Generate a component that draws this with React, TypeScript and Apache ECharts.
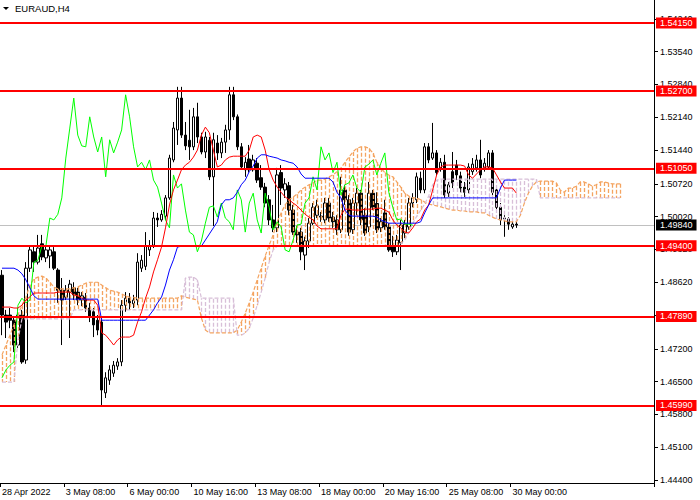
import { useEffect, useRef } from 'react'
import * as echarts from 'echarts'

const FONT = '"Liberation Sans", Arial, sans-serif'

// time axis labels, one every 16 H4 bars
const timeLabels = ['28 Apr 2022', '3 May 08:00', '6 May 00:00', '10 May 16:00', '13 May 08:00', '18 May 00:00', '20 May 16:00', '25 May 08:00', '30 May 00:00']
const LABEL_STEP = 16
const SLOTS = 164
const CHIKOU_SHIFT = 26

const yTicks = [1.444, 1.451, 1.458, 1.465, 1.472, 1.4791, 1.4862, 1.4932, 1.5002, 1.5072, 1.5144, 1.5214, 1.5284, 1.5354, 1.5424]
const levels = [1.5415, 1.527, 1.5105, 1.494, 1.4789, 1.4599]
const lastPrice = 1.4984

const opens = [
  1.4877, 1.4792, 1.4792, 1.4781, 1.4728, 1.4792, 1.4696, 1.4892, 1.4927, 1.4905,
  1.4944, 1.4914, 1.4918, 1.4927, 1.4888, 1.4845, 1.4830, 1.4841, 1.4850, 1.4841,
  1.4824, 1.4830, 1.4807, 1.4799, 1.4781, 1.4777, 1.4626, 1.4653, 1.4668, 1.4683,
  1.4692, 1.4813, 1.4828, 1.4816, 1.4824, 1.4892, 1.4896, 1.4931, 1.4941, 1.4999,
  1.4995, 1.5003, 1.5042, 1.5123, 1.5187, 1.5255, 1.5176, 1.5165, 1.5151, 1.5215,
  1.5172, 1.5140, 1.5165, 1.5087, 1.5159, 1.5138, 1.5161, 1.5187, 1.5262, 1.5215,
  1.5151, 1.5102, 1.5125, 1.5102, 1.5116, 1.5085, 1.5065, 1.5038, 1.4995, 1.4978,
  1.5096, 1.5059, 1.5068, 1.5016, 1.4969, 1.4969, 1.4920, 1.4950, 1.4988, 1.5005,
  1.5003, 1.4995, 1.5031, 1.5001, 1.4995, 1.4974, 1.5059, 1.5038, 1.4974, 1.5031,
  1.5052, 1.5005, 1.4980, 1.5052, 1.5030, 1.4978, 1.5010, 1.4980, 1.4940, 1.4927,
  1.4946, 1.4967, 1.4980, 1.5031, 1.5038, 1.5084, 1.5059, 1.5151, 1.5127, 1.5138,
  1.5106, 1.5118, 1.5052, 1.5098, 1.5112, 1.5089, 1.5065, 1.5059, 1.5098, 1.5106,
  1.5123, 1.5106, 1.5108, 1.5138, 1.5059, 1.5022, 1.4999, 1.4997, 1.4980, 1.4986,
]
const highs = [
  1.4888, 1.4803, 1.4807, 1.4786, 1.4807, 1.4803, 1.4905, 1.4941, 1.4941, 1.4963,
  1.4963, 1.4941, 1.4939, 1.4937, 1.4892, 1.4871, 1.4856, 1.4867, 1.4862, 1.4850,
  1.4841, 1.4839, 1.4818, 1.4807, 1.4792, 1.4786, 1.4670, 1.4685, 1.4694, 1.4700,
  1.4824, 1.4841, 1.4839, 1.4835, 1.4924, 1.4920, 1.4969, 1.4952, 1.5012, 1.5010,
  1.5016, 1.5048, 1.5134, 1.5204, 1.5279, 1.5279, 1.5204, 1.5230, 1.5234, 1.5245,
  1.5181, 1.5183, 1.5172, 1.5181, 1.5176, 1.5170, 1.5198, 1.5279, 1.5279, 1.5220,
  1.5159, 1.5129, 1.5155, 1.5134, 1.5127, 1.5112, 1.5074, 1.5048, 1.5027, 1.5106,
  1.5112, 1.5084, 1.5076, 1.5027, 1.4982, 1.4978, 1.4959, 1.4999, 1.5031, 1.5038,
  1.5012, 1.5042, 1.5042, 1.5012, 1.5005, 1.5087, 1.5070, 1.5048, 1.5042, 1.5063,
  1.5059, 1.5020, 1.5076, 1.5059, 1.5054, 1.4999, 1.5038, 1.4988, 1.4961, 1.4963,
  1.4995, 1.4995, 1.5042, 1.5052, 1.5096, 1.5098, 1.5159, 1.5159, 1.5202, 1.5144,
  1.5127, 1.5134, 1.5076, 1.5140, 1.5123, 1.5098, 1.5076, 1.5116, 1.5127, 1.5134,
  1.5166, 1.5127, 1.5144, 1.5144, 1.5065, 1.5031, 1.5005, 1.5001, 1.4995, 1.4991,
]
const lows = [
  1.4749, 1.4743, 1.4764, 1.4713, 1.4722, 1.4688, 1.4688, 1.4884, 1.4884, 1.4900,
  1.4909, 1.4905, 1.4892, 1.4888, 1.4818, 1.4728, 1.4824, 1.4743, 1.4824, 1.4813,
  1.4811, 1.4799, 1.4777, 1.4745, 1.4749, 1.4600, 1.4615, 1.4643, 1.4660, 1.4675,
  1.4683, 1.4799, 1.4803, 1.4807, 1.4813, 1.4884, 1.4888, 1.4918, 1.4935, 1.4980,
  1.4991, 1.4995, 1.5038, 1.5118, 1.5155, 1.5170, 1.5144, 1.5123, 1.5144, 1.5159,
  1.5135, 1.5127, 1.5080, 1.4982, 1.5123, 1.5127, 1.5138, 1.5166, 1.5208, 1.5144,
  1.5102, 1.5087, 1.5096, 1.5098, 1.5074, 1.5059, 1.5022, 1.4984, 1.4969, 1.4969,
  1.5027, 1.5042, 1.5005, 1.4963, 1.4946, 1.4909, 1.4888, 1.4935, 1.4984, 1.4999,
  1.4991, 1.4988, 1.4991, 1.4978, 1.4963, 1.4967, 1.5027, 1.4961, 1.4965, 1.5005,
  1.4984, 1.4961, 1.4969, 1.5016, 1.4967, 1.4969, 1.4974, 1.4927, 1.4916, 1.4920,
  1.4888, 1.4956, 1.4974, 1.5022, 1.5031, 1.5052, 1.5052, 1.5116, 1.5123, 1.5091,
  1.5098, 1.5042, 1.5044, 1.5063, 1.5080, 1.5054, 1.5044, 1.5052, 1.5091, 1.5098,
  1.5084, 1.5098, 1.5102, 1.5048, 1.5016, 1.4984, 1.4959, 1.4974, 1.4976, 1.4978,
]
const closes = [
  1.4792, 1.4777, 1.4781, 1.4728, 1.4792, 1.4692, 1.4892, 1.4931, 1.4905, 1.4935,
  1.4916, 1.4931, 1.4931, 1.4892, 1.4845, 1.4824, 1.4845, 1.4858, 1.4835, 1.4824,
  1.4833, 1.4807, 1.4790, 1.4771, 1.4760, 1.4632, 1.4658, 1.4675, 1.4685, 1.4692,
  1.4813, 1.4828, 1.4818, 1.4824, 1.4905, 1.4909, 1.4939, 1.4939, 1.4999, 1.4995,
  1.5007, 1.5042, 1.5127, 1.5191, 1.5255, 1.5176, 1.5153, 1.5151, 1.5215, 1.5172,
  1.5140, 1.5172, 1.5087, 1.5166, 1.5138, 1.5161, 1.5187, 1.5262, 1.5215, 1.5151,
  1.5108, 1.5118, 1.5102, 1.5123, 1.5080, 1.5065, 1.5031, 1.4995, 1.4978, 1.5091,
  1.5063, 1.5072, 1.5016, 1.4969, 1.4963, 1.4927, 1.4950, 1.4988, 1.5022, 1.5025,
  1.5001, 1.5031, 1.4999, 1.4991, 1.4974, 1.5059, 1.5038, 1.4969, 1.5031, 1.5052,
  1.4995, 1.4967, 1.5052, 1.5022, 1.4974, 1.4991, 1.4980, 1.4931, 1.4927, 1.4952,
  1.4984, 1.4986, 1.5031, 1.5042, 1.5087, 1.5059, 1.5151, 1.5123, 1.5138, 1.5096,
  1.5118, 1.5048, 1.5070, 1.5074, 1.5091, 1.5063, 1.5054, 1.5108, 1.5114, 1.5123,
  1.5091, 1.5116, 1.5138, 1.5054, 1.5022, 1.4995, 1.4997, 1.4986, 1.4986, 1.4984,
]

// Ichimoku lines
const tenkan = [
  1.4809, 1.4809, 1.4809, 1.4807, 1.4807, 1.4813, 1.4824, 1.4831, 1.4839, 1.4839,
  1.4839, 1.4839, 1.4839, 1.4839, 1.4841, 1.4841, 1.4841, 1.4841, 1.4835, 1.4833,
  1.4828, 1.4824, 1.4824, 1.4824, 1.4813, 1.4754, 1.4749, 1.4739, 1.4728, 1.4739,
  1.4745, 1.4745, 1.4745, 1.4749, 1.4777, 1.4799, 1.4828, 1.4852, 1.4884, 1.4910,
  1.4937, 1.4978, 1.5027, 1.5059, 1.5080, 1.5102, 1.5112, 1.5118, 1.5129, 1.5144,
  1.5176, 1.5193, 1.5181, 1.5144, 1.5108, 1.5112, 1.5123, 1.5129, 1.5131, 1.5131,
  1.5131, 1.5131, 1.5144, 1.5172, 1.5176, 1.5172, 1.5144, 1.5102, 1.5080, 1.5065,
  1.5054, 1.5044, 1.5038, 1.5031, 1.5025, 1.5016, 1.5007, 1.5001, 1.4995, 1.4982,
  1.4976, 1.4976, 1.4976, 1.4976, 1.4976, 1.5005, 1.5018, 1.5018, 1.5016, 1.5016,
  1.5016, 1.5018, 1.5018, 1.5018, 1.5020, 1.5020, 1.5016, 1.5012, 1.4995, 1.4984,
  1.4978, 1.4969, 1.4967, 1.4978, 1.4991, 1.4997, 1.5016, 1.5027, 1.5059, 1.5091,
  1.5108, 1.5112, 1.5112, 1.5112, 1.5112, 1.5112, 1.5110, 1.5091, 1.5084, 1.5093,
  1.5102, 1.5108, 1.5108, 1.5106, 1.5091, 1.5076, 1.5063, 1.5063, 1.5063, 1.5052,
]
const kijun = [
  1.4892, 1.4892, 1.4892, 1.4892, 1.4888, 1.4880, 1.4867, 1.4850, 1.4833, 1.4826,
  1.4826, 1.4826, 1.4826, 1.4826, 1.4826, 1.4826, 1.4826, 1.4826, 1.4826, 1.4826,
  1.4826, 1.4826, 1.4826, 1.4826, 1.4826, 1.4781, 1.4781, 1.4781, 1.4781, 1.4781,
  1.4781, 1.4781, 1.4781, 1.4781, 1.4781, 1.4781, 1.4781, 1.4792, 1.4803, 1.4818,
  1.4830, 1.4856, 1.4888, 1.4910, 1.4937, 1.4939, 1.4939, 1.4939, 1.4939, 1.4939,
  1.4939, 1.4952, 1.4965, 1.4978, 1.4991, 1.5027, 1.5038, 1.5038, 1.5042, 1.5054,
  1.5070, 1.5080, 1.5098, 1.5110, 1.5127, 1.5134, 1.5134, 1.5131, 1.5129, 1.5127,
  1.5123, 1.5121, 1.5118, 1.5116, 1.5108, 1.5093, 1.5084, 1.5084, 1.5084, 1.5084,
  1.5084, 1.5084, 1.5084, 1.5076, 1.5054, 1.5042, 1.5016, 1.5005, 1.5003, 1.5003,
  1.5003, 1.5003, 1.5003, 1.5003, 1.5001, 1.4995, 1.4991, 1.4988, 1.4988, 1.4988,
  1.4988, 1.4988, 1.4988, 1.4988, 1.4988, 1.4991, 1.5010, 1.5027, 1.5042, 1.5042,
  1.5042, 1.5042, 1.5042, 1.5042, 1.5042, 1.5042, 1.5042, 1.5042, 1.5042, 1.5042,
  1.5042, 1.5042, 1.5042, 1.5042, 1.5042, 1.5063, 1.5080, 1.5080, 1.5080, 1.5080,
]
// senkou spans, already drawn 26 bars ahead
const spanA = [
  1.4707, 1.4728, 1.4749, 1.4771, 1.4792, 1.4813, 1.4830, 1.4856, 1.4869, 1.4873,
  1.4875, 1.4871, 1.4862, 1.4852, 1.4848, 1.4848, 1.4848, 1.4848, 1.4850, 1.4852,
  1.4856, 1.4860, 1.4862, 1.4862, 1.4862, 1.4856, 1.4850, 1.4845, 1.4843, 1.4841,
  1.4837, 1.4833, 1.4830, 1.4830, 1.4828, 1.4828, 1.4828, 1.4828, 1.4828, 1.4828,
  1.4828, 1.4828, 1.4828, 1.4828, 1.4828, 1.4833, 1.4830, 1.4828, 1.4826, 1.4824,
  1.4786, 1.4760, 1.4754, 1.4754, 1.4754, 1.4754, 1.4754, 1.4754, 1.4754, 1.4760,
  1.4777, 1.4796, 1.4818, 1.4841, 1.4867, 1.4892, 1.4918, 1.4941, 1.4963, 1.4991,
  1.5010, 1.5027, 1.5038, 1.5044, 1.5050, 1.5059, 1.5065, 1.5070, 1.5074, 1.5080,
  1.5080, 1.5082, 1.5087, 1.5091, 1.5098, 1.5106, 1.5118, 1.5129, 1.5140, 1.5148,
  1.5151, 1.5151, 1.5148, 1.5138, 1.5118, 1.5106, 1.5096, 1.5091, 1.5087, 1.5076,
  1.5065, 1.5052, 1.5046, 1.5042, 1.5042, 1.5038, 1.5033, 1.5029, 1.5027, 1.5025,
  1.5023, 1.5020, 1.5018, 1.5016, 1.5016, 1.5014, 1.5014, 1.5012, 1.5012, 1.5012,
  1.5010, 1.5010, 1.5005, 1.5001, 1.4997, 1.4995, 1.4993, 1.4991, 1.4991, 1.4991,
  1.5005, 1.5031, 1.5052, 1.5067, 1.5076, 1.5078, 1.5078, 1.5078, 1.5078, 1.5074,
  1.5059, 1.5054, 1.5063, 1.5063, 1.5067, 1.5076, 1.5076, 1.5072, 1.5067, 1.5070,
  1.5076, 1.5076, 1.5074, 1.5072, 1.5072, 1.5072,
]
const spanB = [
  1.4649, 1.4649, 1.4649, 1.4649, 1.4739, 1.4784, 1.4784, 1.4784, 1.4784, 1.4784,
  1.4784, 1.4784, 1.4784, 1.4784, 1.4784, 1.4784, 1.4784, 1.4784, 1.4803, 1.4803,
  1.4803, 1.4803, 1.4803, 1.4803, 1.4803, 1.4803, 1.4803, 1.4803, 1.4803, 1.4803,
  1.4803, 1.4803, 1.4803, 1.4803, 1.4803, 1.4803, 1.4803, 1.4803, 1.4803, 1.4803,
  1.4803, 1.4803, 1.4803, 1.4803, 1.4803, 1.4803, 1.4871, 1.4873, 1.4873, 1.4867,
  1.4828, 1.4828, 1.4828, 1.4828, 1.4828, 1.4828, 1.4828, 1.4828, 1.4828, 1.4749,
  1.4749, 1.4754, 1.4764, 1.4786, 1.4813, 1.4841, 1.4871, 1.4905, 1.4931, 1.4939,
  1.4939, 1.4939, 1.4939, 1.4939, 1.4939, 1.4939, 1.4939, 1.4939, 1.4939, 1.4939,
  1.4939, 1.4939, 1.4939, 1.4939, 1.4939, 1.4939, 1.4939, 1.4939, 1.4939, 1.4939,
  1.4939, 1.4939, 1.4939, 1.4939, 1.4939, 1.4939, 1.4939, 1.4939, 1.4939, 1.4939,
  1.4944, 1.4952, 1.4969, 1.4988, 1.5003, 1.5016, 1.5029, 1.5046, 1.5070, 1.5080,
  1.5082, 1.5082, 1.5082, 1.5082, 1.5082, 1.5082, 1.5082, 1.5082, 1.5082, 1.5082,
  1.5082, 1.5082, 1.5082, 1.5082, 1.5082, 1.5082, 1.5082, 1.5082, 1.5082, 1.5082,
  1.5082, 1.5082, 1.5082, 1.5082, 1.5082, 1.5042, 1.5042, 1.5042, 1.5042, 1.5042,
  1.5042, 1.5042, 1.5042, 1.5042, 1.5042, 1.5042, 1.5042, 1.5042, 1.5042, 1.5042,
  1.5042, 1.5042, 1.5042, 1.5042, 1.5042, 1.5042,
]

const SANDY = '#f4a460'
const THISTLE = '#d8bfd8'

const priceLabel = (bg: string) => ({
  show: true,
  position: 'end',
  distance: 2,
  formatter: (p: any) => Number(p.value).toFixed(5),
  color: '#ffffff',
  backgroundColor: bg,
  padding: [1, 4, 0, 4],
  fontSize: 9,
  lineHeight: 10,
  fontFamily: FONT,
})

export default function App() {
  const chartRef = useRef<HTMLDivElement>(null)

  useEffect(() => {
    if (!chartRef.current) return
    const chart = echarts.init(chartRef.current, undefined, { renderer: 'svg' })

    const categories = Array.from({ length: SLOTS }, (_, i) => String(i))
    const candles = opens.map((o, i) => [o, closes[i], lows[i], highs[i]])
    // lagging span: the close plotted 26 bars back
    const chikou = closes.slice(CHIKOU_SHIFT)
    const cloud = spanA.map((a, i) => [i, a, spanB[i]])
    const showTime = (i: number) => i % LABEL_STEP === 0 && i / LABEL_STEP < timeLabels.length

    const option: any = {
      animation: false,
      backgroundColor: '#ffffff',
      textStyle: { fontFamily: FONT },
      title: {
        text: 'EURAUD,H4',
        left: 15,
        top: 3,
        padding: 0,
        textStyle: { fontSize: 9.5, fontWeight: 'normal', color: '#000', fontFamily: FONT },
      },
      graphic: [
        { type: 'polygon', shape: { points: [[3, 7], [9, 7], [6, 10]] }, style: { fill: '#000' } },
      ],
      grid: { left: 0, right: 46, top: 0, bottom: 17, containLabel: false, outerBoundsMode: 'none' },
      xAxis: {
        type: 'category',
        data: categories,
        boundaryGap: true,
        axisLine: { lineStyle: { color: '#000', width: 1 } },
        axisTick: { show: true, length: 4, interval: showTime, lineStyle: { color: '#000' } },
        axisLabel: {
          interval: showTime,
          formatter: (_v: string, i: number) => timeLabels[i / LABEL_STEP] ?? '',
          align: 'left',
          margin: 4,
          fontSize: 9,
          color: '#000',
          fontFamily: FONT,
        },
        splitLine: { show: false },
      },
      yAxis: {
        type: 'value',
        position: 'right',
        min: 1.44336,
        max: 1.54643,
        axisLine: { show: true, lineStyle: { color: '#000', width: 1 } },
        axisTick: { show: true, length: 4, customValues: yTicks, lineStyle: { color: '#000' } },
        axisLabel: {
          customValues: yTicks,
          formatter: (v: number) => v.toFixed(5),
          margin: 6,
          fontSize: 9,
          color: '#000',
          fontFamily: FONT,
        },
        splitLine: { show: false },
      },
      series: [
        {
          type: 'line',
          data: [],
          silent: true,
          clip: false,
          z: 1,
          markLine: {
            silent: true,
            z: 1,
            precision: 5,
            symbol: ['none', 'none'],
            lineStyle: { color: '#c0c0c0', width: 1, type: 'solid' },
            label: priceLabel('#000000'),
            emphasis: { disabled: true },
            data: [{ yAxis: lastPrice }],
          },
        },
        {
          type: 'candlestick',
          data: candles,
          barWidth: 3,
          silent: true,
          z: 2,
          itemStyle: { color: '#ffffff', color0: '#000000', borderColor: '#000000', borderColor0: '#000000', borderWidth: 1 },
        },
        {
          type: 'custom',
          data: cloud,
          silent: true,
          z: 3,
          encode: { x: 0, y: [1, 2] },
          renderItem: (_params: any, api: any) => {
            const i = api.value(0)
            const a = api.value(1)
            const b = api.value(2)
            const pa = api.coord([i, a])
            const pb = api.coord([i, b])
            const x = Math.round(pa[0]) + 0.5
            return {
              type: 'line',
              shape: { x1: x, y1: pa[1], x2: x, y2: pb[1] },
              style: { stroke: a >= b ? SANDY : THISTLE, lineWidth: 1.3, lineDash: [4, 2] },
              silent: true,
            }
          },
        },
        {
          type: 'line',
          data: spanA,
          symbol: 'none',
          silent: true,
          z: 3,
          lineStyle: { color: SANDY, width: 1.2, type: [4, 2] },
        },
        {
          type: 'line',
          data: spanB,
          symbol: 'none',
          silent: true,
          z: 3,
          lineStyle: { color: THISTLE, width: 1.2, type: [4, 2] },
        },
        {
          type: 'line',
          data: chikou,
          symbol: 'none',
          silent: true,
          z: 4,
          lineStyle: { color: '#00ff00', width: 1 },
        },
        {
          type: 'line',
          data: tenkan,
          symbol: 'none',
          silent: true,
          z: 4,
          lineStyle: { color: '#ff0000', width: 1 },
        },
        {
          type: 'line',
          data: kijun,
          symbol: 'none',
          silent: true,
          z: 4,
          lineStyle: { color: '#0000ff', width: 1 },
        },
        {
          type: 'line',
          data: [],
          silent: true,
          clip: false,
          z: 5,
          markLine: {
            silent: true,
            z: 6,
            precision: 5,
            symbol: ['none', 'none'],
            lineStyle: { color: '#ff0000', width: 2, type: 'solid' },
            label: priceLabel('#ff0000'),
            emphasis: { disabled: true },
            data: levels.map((v) => ({ yAxis: v })),
          },
        },
      ],
    }

    chart.setOption(option)

    return () => {
      chart.dispose()
    }
  }, [])

  return (
    <div
      ref={chartRef}
      style={{ position: 'fixed', left: 0, top: 0, width: 700, height: 500, background: '#fff' }}
    />
  )
}
